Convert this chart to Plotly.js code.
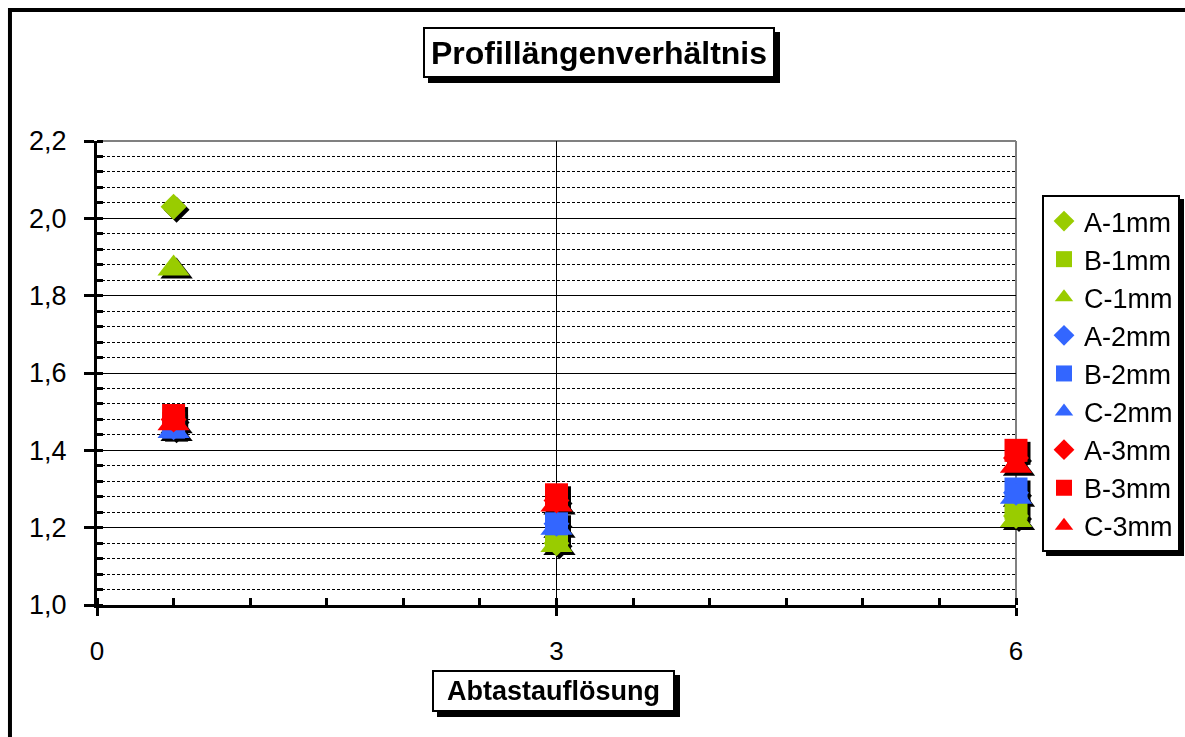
<!DOCTYPE html>
<html>
<head>
<meta charset="utf-8">
<script src="https://cdn.plot.ly/plotly-3.0.1.min.js"></script>
<style>
  html, body { margin: 0; padding: 0; background: #fff; }
  #chart { width: 1185px; height: 737px; }
  .scatterlayer { filter: drop-shadow(3px 3px 0 #000); }
  .annotation rect.bg { filter: drop-shadow(5px 5px 0 #000); }
  .legend rect.bg { filter: drop-shadow(4px 4px 0 #000); }
</style>
</head>
<body>
<div id="chart"></div>
<script>
// Sampling resolution (x positions of the three groups)
const resolutions = [0.5, 3, 6];

// Profile length ratio per sample / probe size
const A_1mm = [2.03, 1.16, 1.23];
const B_1mm = [1.47, 1.17, 1.25];
const C_1mm = [1.87, 1.155, 1.22];
const A_2mm = [1.46, 1.21, 1.29];
const B_2mm = [1.46, 1.21, 1.30];
const C_2mm = [1.45, 1.20, 1.28];
const A_3mm = [1.48, 1.27, 1.38];
const B_3mm = [1.49, 1.285, 1.40];
const C_3mm = [1.47, 1.26, 1.36];

const seriesNames = ['A-1mm','B-1mm','C-1mm','A-2mm','B-2mm','C-2mm','A-3mm','B-3mm','C-3mm'];
const seriesValues = [A_1mm, B_1mm, C_1mm, A_2mm, B_2mm, C_2mm, A_3mm, B_3mm, C_3mm];
const seriesColors = ['#99CC00','#99CC00','#99CC00','#3366FF','#3366FF','#3366FF','#FF0000','#FF0000','#FF0000'];
const seriesSymbols = ['diamond','square','triangle-up','diamond','square','triangle-up','diamond','square','triangle-up'];
const symbolSizes = {'diamond': 20, 'square': 23, 'triangle-up': 28};

const FONT = 'Liberation Sans, Arial, Helvetica, sans-serif';

const traces = seriesNames.map((name, i) => ({
  type: 'scatter',
  mode: 'markers',
  name: name,
  x: resolutions,
  y: seriesValues[i],
  cliponaxis: false,
  marker: {
    color: seriesColors[i],
    symbol: seriesSymbols[i],
    size: symbolSizes[seriesSymbols[i]],
    line: {width: 0}
  }
}));

const layout = {
  width: 1185,
  height: 737,
  margin: {l: 97, r: 169, t: 141, b: 132, pad: 0, autoexpand: false},
  paper_bgcolor: '#ffffff',
  plot_bgcolor: '#ffffff',
  separators: ', ',
  font: {family: FONT, color: '#000', size: 26},
  showlegend: true,
  legend: {
    x: 1.0283, y: 0.8836, xanchor: 'left', yanchor: 'top',
    bgcolor: '#ffffff', bordercolor: '#000', borderwidth: 2,
    font: {family: FONT, size: 27, color: '#000'},
    itemwidth: 30,
    tracegroupgap: 0
  },
  xaxis: {
    range: [0, 6],
    tick0: 0, dtick: 3,
    ticks: 'outside', ticklen: 8, tickwidth: 3, tickcolor: '#000',
    ticklabelstandoff: 13,
    tickfont: {family: FONT, size: 26, color: '#000'},
    showline: true, linecolor: '#000', linewidth: 3,
    showgrid: true, gridcolor: '#000', gridwidth: 1,
    zeroline: false, automargin: false,
    minor: {dtick: 0.5, ticks: 'inside', ticklen: 7, tickwidth: 3, tickcolor: '#000', showgrid: false}
  },
  yaxis: {
    range: [1, 2.2],
    tick0: 1, dtick: 0.2,
    tickformat: '.1f',
    ticks: 'outside', ticklen: 10, tickwidth: 3, tickcolor: '#000',
    ticklabelstandoff: 12,
    tickfont: {family: FONT, size: 27, color: '#000'},
    showline: true, linecolor: '#000', linewidth: 3,
    showgrid: true, gridcolor: '#000', gridwidth: 1,
    zeroline: false, automargin: false,
    minor: {dtick: 0.04, ticks: 'inside', ticklen: 6, tickwidth: 3, tickcolor: '#000',
            showgrid: true, gridcolor: '#000', gridwidth: 1, griddash: '3px,2px'}
  },
  annotations: [
    {
      text: '<b>Profillängenverhältnis</b>',
      xref: 'paper', yref: 'paper', x: 0.5462, y: 1.1907,
      xanchor: 'center', yanchor: 'middle', showarrow: false,
      font: {family: FONT, size: 32, color: '#000'},
      bgcolor: '#ffffff', bordercolor: '#000', borderwidth: 2, borderpad: 3,
      width: 342, height: 41
    },
    {
      text: '<b>Abtastauflösung</b>',
      xref: 'paper', yref: 'paper', x: 0.4967, y: -0.1853,
      xanchor: 'center', yanchor: 'middle', showarrow: false,
      font: {family: FONT, size: 27, color: '#000'},
      bgcolor: '#ffffff', bordercolor: '#000', borderwidth: 2, borderpad: 3,
      width: 233, height: 32
    }
  ],
  shapes: [
    // outer chart frame
    {type: 'rect', xref: 'paper', yref: 'paper', x0: -0.0947, x1: 1.20, y0: -0.33, y1: 1.2823,
     line: {color: '#000', width: 4}, fillcolor: 'rgba(0,0,0,0)', layer: 'below'},
    // grey plot-area border (top and right)
    {type: 'line', xref: 'paper', yref: 'paper', x0: 0, x1: 1, y0: 1, y1: 1,
     line: {color: '#808080', width: 2}, layer: 'between'},
    {type: 'line', xref: 'paper', yref: 'paper', x0: 1, x1: 1, y0: 0, y1: 1,
     line: {color: '#808080', width: 2}, layer: 'between'}
  ]
};

Plotly.newPlot('chart', traces, layout, {staticPlot: true, displayModeBar: false});
</script>
</body>
</html>
